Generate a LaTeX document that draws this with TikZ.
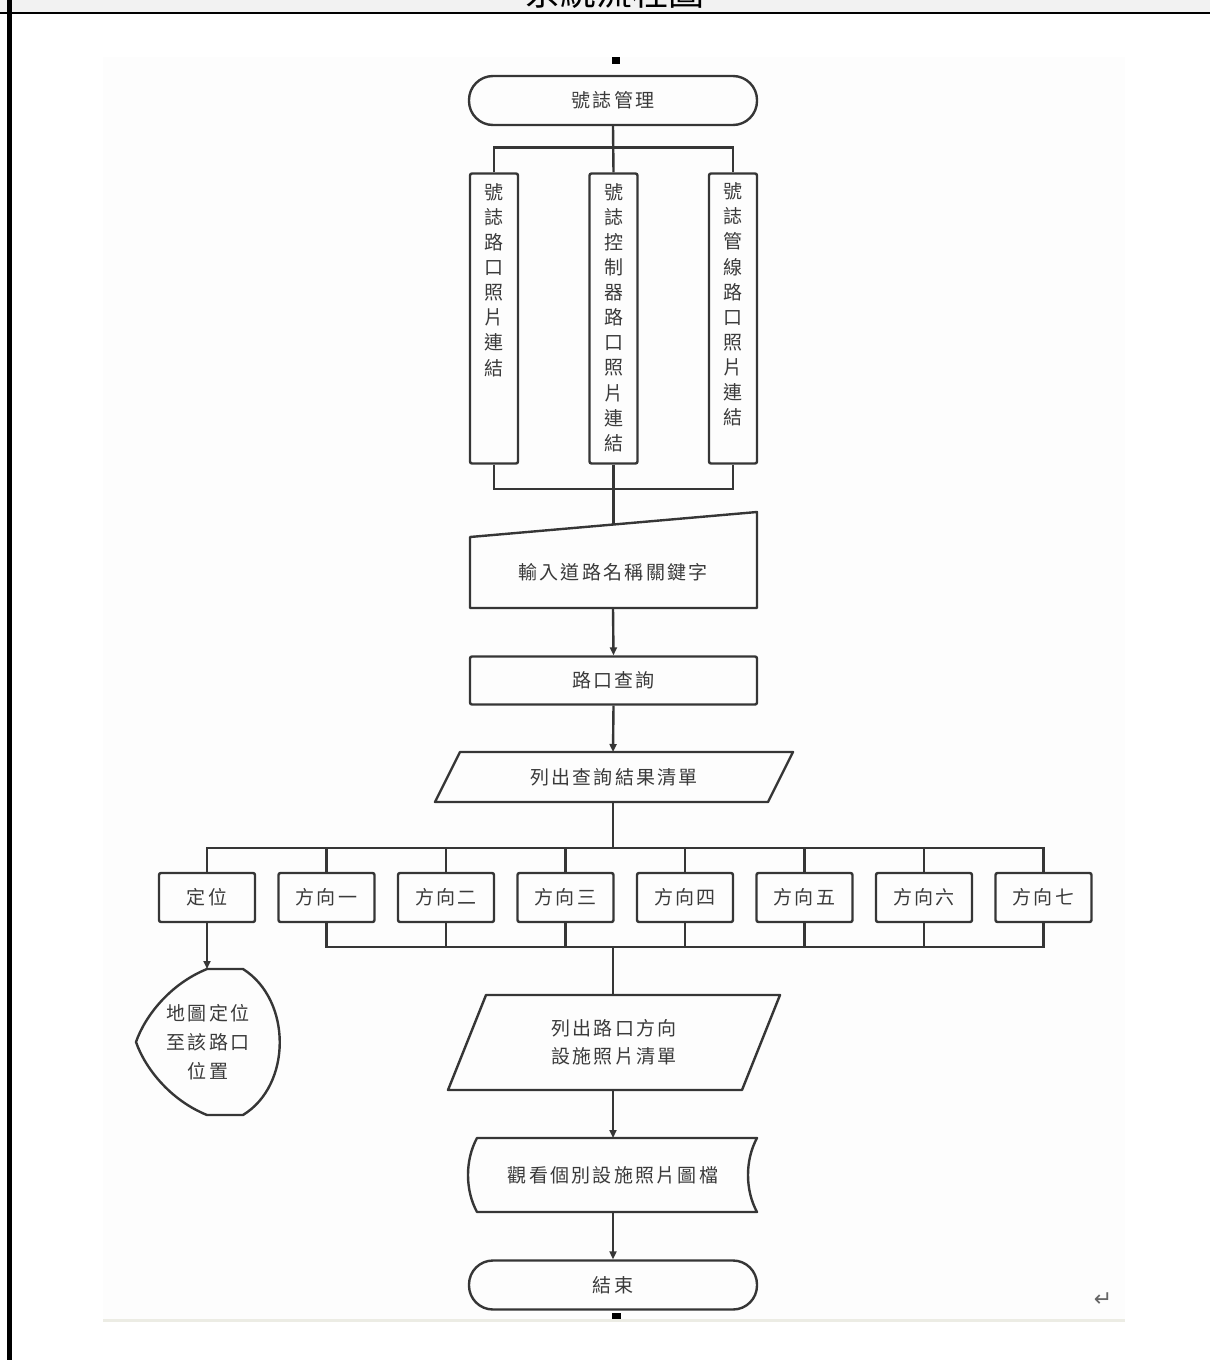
\documentclass[tikz,border=0pt]{standalone}
\usepackage{fontspec}
\setmainfont{Noto Sans CJK TC}
\newfontfamily\cjk[LetterSpace=12]{Noto Sans CJK TC}
\newfontfamily\cjkv{Noto Sans CJK TC}
\newfontfamily\symf{DejaVu Sans}
\usetikzlibrary{arrows.meta}
\definecolor{lc}{HTML}{363636}
\definecolor{tc}{HTML}{3A3A3A}
\definecolor{hdr}{HTML}{F2F2F2}
\definecolor{pg}{HTML}{FDFDFD}
\definecolor{rulec}{HTML}{ECECE4}
\tikzset{
  ln/.style={draw=lc, line width=2.4pt},
  term/.style={ln, rounded corners=24pt, minimum width=288pt, minimum height=49pt, inner sep=0pt},
  proc/.style={ln, rounded corners=2pt, inner sep=0pt},
  tallbox/.style={proc, minimum width=48pt, minimum height=290pt},
  dirbox/.style={proc, minimum width=96pt, minimum height=49pt, text=tc, font=\cjk\fontsize{19}{25}\selectfont},
  txt/.style={text=tc, font=\cjk\fontsize{19}{25}\selectfont, align=center, inner sep=0pt},
  vtxt/.style={text=tc, font=\cjkv\fontsize{19}{25.1}\selectfont, align=center, inner sep=0pt},
  arr/.style={draw=lc, line width=2.4pt, -{Triangle[length=8pt,width=7pt]}},
}
\begin{document}
\begin{tikzpicture}[x=1pt,y=-1pt]
\useasboundingbox (0,0) rectangle (1210,1360);
\fill[white] (0,0) rectangle (1210,1360);
% header bar
\fill[hdr] (0,0) rectangle (1210,13);
\begin{scope}
  \clip (0,0) rectangle (1210,12);
  \node[anchor=base, inner sep=0pt, font=\fontsize{36}{40}\selectfont] (title) at (614,5) {系統流程圖};
\end{scope}
\draw[line width=2pt] (0,13) -- (1210,13);
\fill[black] (7,0) rectangle (12,1360);
% image area
\fill[pg] (103,57) rectangle (1125,1319);
\fill[rulec] (103,1319) rectangle (1125,1322);
\fill[black] (612,57) rectangle (620,64);
\fill[black] (612,1313) rectangle (621,1319);
\node[text=black!60, font=\symf\fontsize{22}{24}\selectfont, inner sep=0pt] (ret) at (1103,1300) {↵};

% start
\node[term] (start) at (613,100.5) {};
\node[txt] (startt) at (613,100.5) {號誌管理};

% three tall boxes
\node[tallbox] (t1) at (494,318.5) {};
\node[tallbox] (t2) at (613.5,318.5) {};
\node[tallbox] (t3) at (733,318.5) {};
\node[vtxt] (t1t) at (494,280) {號\\誌\\路\\口\\照\\片\\連\\結};
\node[vtxt] (t2t) at (613.5,317.5) {號\\誌\\控\\制\\器\\路\\口\\照\\片\\連\\結};
\node[vtxt] (t3t) at (733,304.5) {號\\誌\\管\\線\\路\\口\\照\\片\\連\\結};
\draw[ln] (t1.north) -- ++(0,-25) -| (t3.north);
\draw[ln] (start.south) -- (t2.north);
\draw[ln] (t1.south) -- ++(0,24.5) -| (t3.south);

% manual input
\draw[ln, line join=round] (470,537) -- (757,512) -- (757,608) -- (470,608) -- cycle;
\node[txt] (mi) at (613,572) {輸入道路名稱關鍵字};
\coordinate (mitop) at (613.5,524.5);
\coordinate (mibot) at (613,608);
\draw[ln] (t2.south) -- (mitop);

% query
\node[proc, minimum width=287pt, minimum height=48pt] (q) at (613.5,680.5) {};
\node[txt] (qt) at (613.5,680.5) {路口查詢};
\draw[arr] (mibot) -- (q.north);

% parallelogram 1
\draw[ln, line join=round] (460,752) -- (793,752) -- (768,802) -- (435,802) -- cycle;
\node[txt] (p1) at (614,777) {列出查詢結果清單};
\coordinate (p1top) at (613,752);
\coordinate (p1bot) at (613,802);
\draw[arr] (q.south) -- (p1top);

% direction boxes
\foreach \i/\x/\t in {0/207/定位,1/326.5/方向一,2/446/方向二,3/565.5/方向三,4/685/方向四,5/804.5/方向五,6/924/方向六,7/1043.5/方向七}
  \node[dirbox] (b\i) at (\x,897.5) {\t};
\coordinate (bus2t) at (613,849);
\coordinate (bus2b) at (613,946);
\draw[ln] (p1bot) -- (bus2t);
\draw[ln] (b0.north) -- ++(0,-24) -| (b7.north);
\foreach \i in {1,...,6} \draw[ln] (b\i.north) -- ++(0,-24);
\draw[ln] (b1.south) -- ++(0,24) -| (b7.south);
\foreach \i in {2,...,6} \draw[ln] (b\i.south) -- ++(0,24);

% display shape
\draw[ln, line join=round] (207,969) -- (243,969) .. controls (292,1000) and (292,1085) .. (243,1115) -- (207,1115) .. controls (170,1100) and (145,1068) .. (136,1042) .. controls (145,1016) and (170,984) .. (207,969) -- cycle;
\node[txt, font=\cjk\fontsize{19}{29}\selectfont] (disp) at (208,1042) {地圖定位\\至該路口\\位置};
\coordinate (disptop) at (207,969);
\draw[arr] (b0.south) -- (disptop);

% parallelogram 2
\draw[ln, line join=round] (486,995) -- (780,995) -- (742,1090) -- (448,1090) -- cycle;
\node[txt, font=\cjk\fontsize{19}{28}\selectfont] (p2) at (614,1042) {列出路口方向\\設施照片清單};
\coordinate (p2top) at (613,995);
\coordinate (p2bot) at (613,1090);
\draw[ln] (bus2b) -- (p2top);

% stored data shape
\draw[ln, line join=round] (477,1138) -- (757,1138) .. controls (745,1160) and (745,1190) .. (757,1212) -- (477,1212) .. controls (465,1190) and (465,1160) .. (477,1138) -- cycle;
\node[txt] (doc) at (613,1175) {觀看個別設施照片圖檔};
\coordinate (doctop) at (613,1138);
\coordinate (docbot) at (613,1212);
\draw[arr] (p2bot) -- (doctop);

% end
\node[term] (end) at (613,1285) {};
\node[txt] (endt) at (613,1285) {結束};
\draw[arr] (docbot) -- (end.north);
\end{tikzpicture}
\end{document}
